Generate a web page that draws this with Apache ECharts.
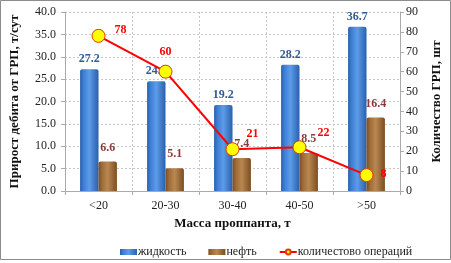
<!DOCTYPE html>
<html>
<head>
<meta charset="utf-8">
<script src="https://cdn.jsdelivr.net/npm/echarts@6/dist/echarts.min.js"></script>
<style>
  html, body { margin: 0; padding: 0; background: #fff; }
  #chart { width: 451px; height: 263px; }
</style>
</head>
<body>
<div id="chart"></div>
<script>
'use strict';

var categories = ['<20', '20-30', '30-40', '40-50', '>50'];
var liquid = [27.2, 24.5, 19.2, 28.2, 36.7];
var oil = [6.6, 5.1, 7.4, 8.5, 16.4];
var operations = [78, 60, 21, 22, 8];

// label placement for the line points (styling only)
var opLabelPos = ['right', 'top', 'right', 'right', 'right'];
var opLabelOffset = [[4, -6], [0, -2], [2, -15], [6, -14], [2, -1]];

var serif = '"Liberation Serif", "DejaVu Serif", serif';
var gridLine = { show: true, lineStyle: { color: '#c8c8c8', type: [2, 2], width: 1 } };

function barGrad(light, mid, dark) {
  return new echarts.graphic.LinearGradient(0, 0, 1, 0, [
    { offset: 0, color: dark },
    { offset: 0.2, color: mid },
    { offset: 0.5, color: light },
    { offset: 1, color: dark }
  ]);
}

var chart = echarts.init(document.getElementById('chart'), null, { renderer: 'canvas' });

var option = {
  animation: false,
  backgroundColor: '#fff',
  textStyle: { fontFamily: serif },
  graphic: [{
    type: 'rect', shape: { x: 0.5, y: 0.5, width: 450, height: 259 },
    style: { fill: 'none', stroke: '#8c8c8c', lineWidth: 1 }, silent: true, z: -1
  }],
  grid: { left: 59, right: 47, top: 12, bottom: 72 },
  legend: {
    top: 241, left: 115, itemGap: 22, itemWidth: 17, itemHeight: 6,
    textStyle: { fontFamily: serif, fontSize: 12, color: '#222', padding: [0, 0, 0, -4] },
    data: [
      { name: 'жидкость', icon: 'rect' },
      { name: 'нефть', icon: 'rect' },
      { name: 'количестово операций' }
    ]
  },
  xAxis: {
    type: 'category', data: categories,
    name: 'Масса проппанта, т', nameLocation: 'middle', nameGap: 23,
    nameTextStyle: { fontFamily: serif, fontWeight: 'bold', fontSize: 13, color: '#111' },
    axisLine: { lineStyle: { color: '#aaa' } },
    axisTick: { show: true, length: 4, lineStyle: { color: '#aaa' } },
    axisLabel: { fontFamily: serif, fontSize: 12, color: '#222', margin: 9 },
    splitLine: gridLine
  },
  yAxis: [{
    type: 'value', min: 0, max: 40, interval: 5,
    name: 'Прирост дебита от ГРП, т/сут', nameLocation: 'middle', nameGap: 44, nameRotate: 90,
    nameTextStyle: { fontFamily: serif, fontWeight: 'bold', fontSize: 13, color: '#111' },
    axisLine: { show: true, lineStyle: { color: '#aaa' } },
    axisTick: { show: true, length: 4, lineStyle: { color: '#aaa' } },
    axisLabel: { fontFamily: serif, fontSize: 12, color: '#222', margin: 9,
      formatter: function (v) { return v.toFixed(1); } },
    splitLine: gridLine
  }, {
    type: 'value', min: 0, max: 90, interval: 10,
    name: 'Количество ГРП, шт', nameLocation: 'middle', nameGap: 30, nameRotate: 90,
    nameTextStyle: { fontFamily: serif, fontWeight: 'bold', fontSize: 13, color: '#111' },
    axisLine: { show: true, lineStyle: { color: '#aaa' } },
    axisTick: { show: true, length: 4, lineStyle: { color: '#aaa' } },
    axisLabel: { fontFamily: serif, fontSize: 12, color: '#222', margin: 6 },
    splitLine: { show: false }
  }],
  series: [{
    name: 'жидкость', type: 'bar', data: liquid, barGap: '0%', barCategoryGap: '45%',
    itemStyle: { color: barGrad('#5c9ce8', '#3f80d6', '#2a60ac'), borderRadius: [2, 2, 0, 0] },
    label: { show: true, position: 'top', distance: 4, fontFamily: serif, fontWeight: 'bold',
      fontSize: 12, color: '#2f5d96', formatter: function (p) { return p.value.toFixed(1); } }
  }, {
    name: 'нефть', type: 'bar', data: oil,
    itemStyle: { color: barGrad('#b98750', '#a06d38', '#7a4e22'), borderRadius: [2, 2, 0, 0] },
    label: { show: true, position: 'top', distance: 8, fontFamily: serif, fontWeight: 'bold',
      fontSize: 12, color: '#8b3a3a', formatter: function (p) { return p.value.toFixed(1); } }
  }, {
    name: 'количестово операций', type: 'line', yAxisIndex: 1, z: 5,
    data: operations.map(function (v, i) {
      return { value: v, label: { position: opLabelPos[i], offset: opLabelOffset[i] } };
    }),
    symbol: 'circle', symbolSize: 13,
    lineStyle: { color: '#ff0000', width: 2 },
    itemStyle: { color: '#ffff00', borderColor: '#e03a00', borderWidth: 1 },
    label: { show: true, fontFamily: serif, fontWeight: 'bold', fontSize: 12, color: '#ff0000' }
  }]
};

chart.setOption(option);
</script>
</body>
</html>
